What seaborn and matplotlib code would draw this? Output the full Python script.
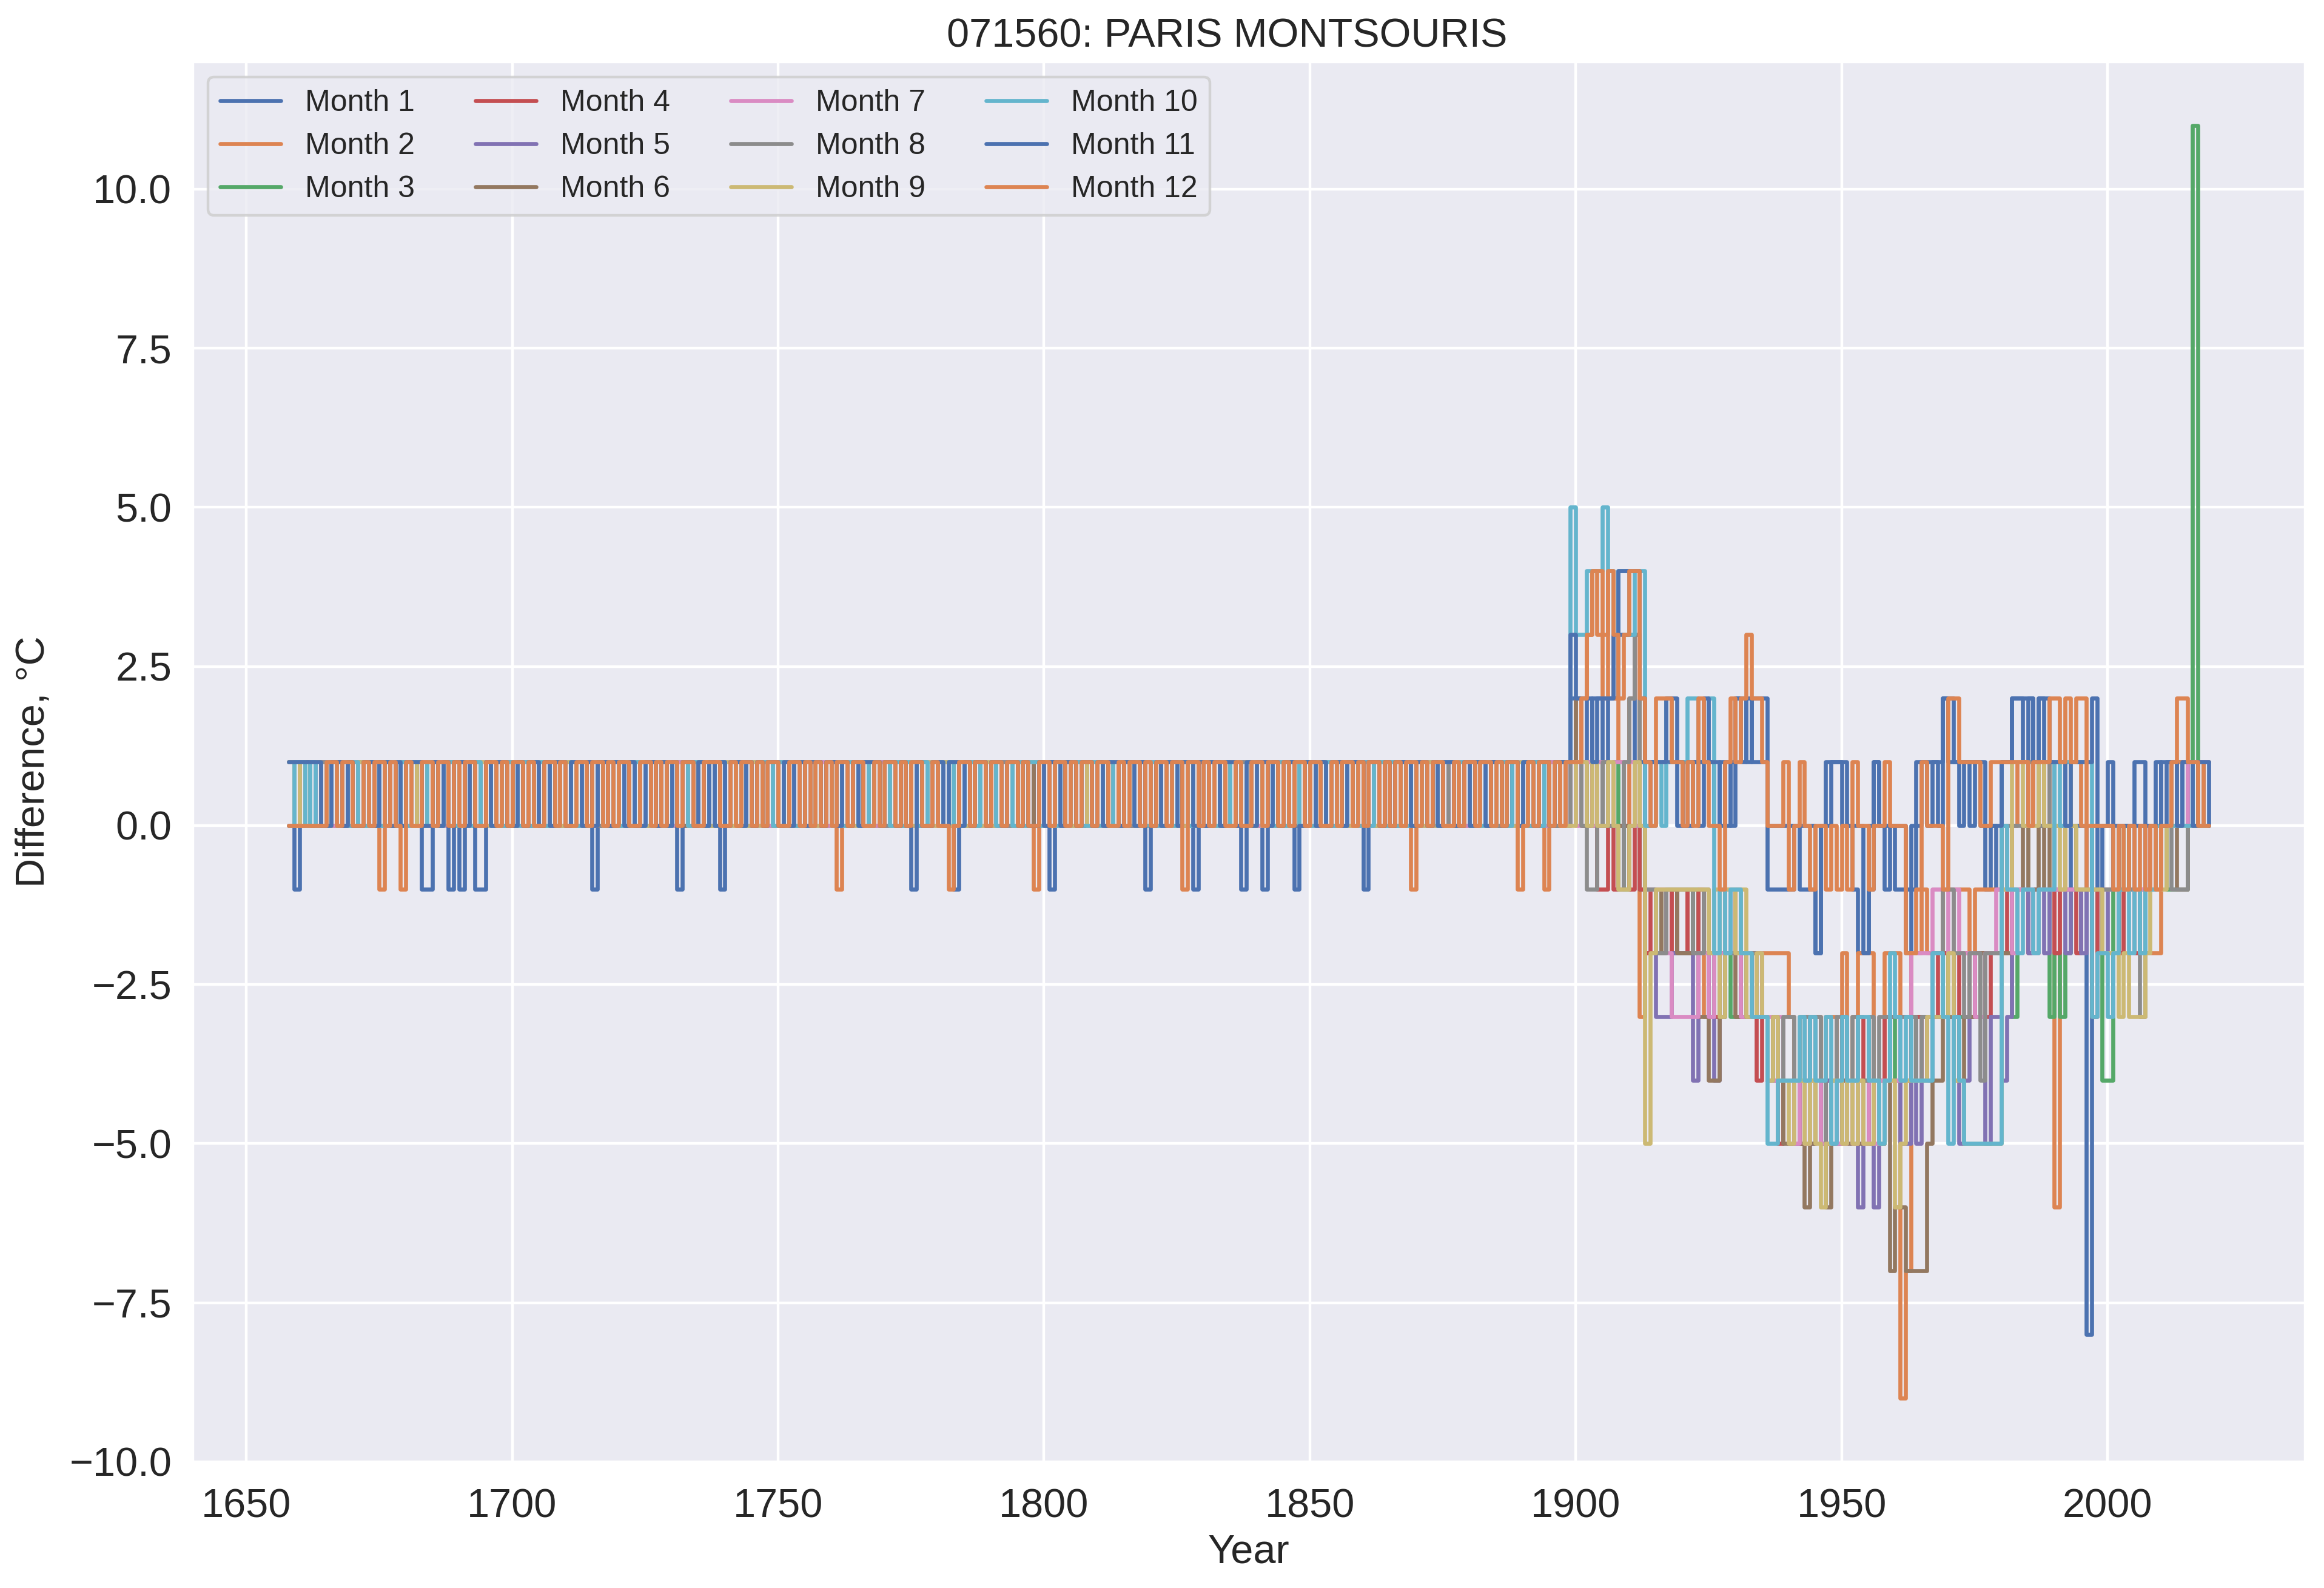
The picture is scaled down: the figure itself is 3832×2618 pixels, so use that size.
import matplotlib
matplotlib.use("Agg")
import matplotlib.pyplot as plt
import pandas as pd
import seaborn as sns

TITLE = "071560: PARIS MONTSOURIS"
X_LABEL = "Year"
Y_LABEL = "Difference, °C"
MONTHS = [f"Month {m}" for m in range(1, 13)]

FIRST_YEAR = 1658
SPLIT_YEAR = 1898
LAST_YEAR = 2019

# 1658-1897: values 0/1, ten years per group
EARLY = {
    1: "1100110101 1011001101 0110110010 1101011001 0110101101 1001101011 0101100110 1101001011 0110110100 1011010110 0101101101 1010010110 1101101001 0110101101 1011010010 1101101011 0100110101 1011011010 0101101101 1010110100 1101011011 0110100101 1011010110 1101101011",
    2: "0011100110 0101110011 1001011100 0110100111 1010011010 0111001101 1010110011 0100111010 1011001101 0110110011 1010011101 0101100110 0011011010 1100101101 0110011011 0101101100 1011010011 0110011101 1001101011 0101100110 0110011010 1011001101 0110110010 1001101011",
    3: "1010011011 0110101100 1101100101 0010110110 1101001011 0110110100 1001011011 0110100110 1101011001 0010110110 1011001011 0110101101 1001011010 0110110101 1010010110 0101101011 1101010010 0110101101 1011010100 1101001011 0101101010 1101011001 0101101101 0110100110",
    4: "0110101001 1010110110 0101001011 1011010100 0110101011 0101011010 1010101101 0110010110 1001101010 1101010101 0101011010 1010100101 0110101011 1001010110 0101101010 1010010101 0110101101 1001011010 0110100101 1011010110 0100101011 0110100101 1001011010 1010110101",
    5: "1001010110 0101101011 1010010100 0101101011 1001011010 1010100101 0101011010 1011010101 0100101011 0101101010 1010010101 1001101010 0101010110 1010101001 0110010101 1010101100 1001010110 0101101001 1010010110 0101011010 1010101001 0101010110 0110101001 0101011010",
    6: "0111001010 1001010101 0110101101 1010100110 0101010110 1010101001 0110100110 1001011010 0110101100 1010010101 0101101010 0110010110 1010101101 0101010100 1001011011 0101010010 1010101101 0110100101 1001010110 1010101001 0101010110 1010110010 0101001101 1010100101",
    7: "0100101101 0110010101 1001010110 0110101001 1010110100 0101001011 1011010100 0101101011 1010010101 0100101010 1010110100 0101010011 1001010100 0110101011 1001010101 0101011010 0110101001 1010010101 0101101010 0110010101 1010101010 0101010101 1001010110 0101010110",
    8: "1001001011 0101011010 0010101101 1001010110 0101101001 0110100101 0010110110 1010100101 0101010110 1010101001 0110101010 1001010101 0101011010 1010100100 0101101011 1010010101 0101010100 1010101011 0110010100 1001010101 0101010101 1010101010 0101011001 1010101001",
    9: "1010110010 1001010110 1010101001 0101011010 1001010101 1010100110 0101011001 1010101010 0110100101 1001011010 0101010101 1010101010 1001011010 0101010101 1010101001 0101010110 1001010101 0101010110 1010101001 0101011010 0101010110 1010101001 0101010110 0101011010",
    10: "0110100110 1010011011 0101101001 1010010101 0110101101 0101010110 1101010101 0010101101 0101101011 1010100101 0101011010 1010101101 0110100110 1010010101 1001010110 0101101011 1010010110 0101011010 0110101011 0101010101 1010110101 0101010110 1101010110 1010101011",
    11: "1111110011 0100110110 1011100101 0110110101 1001011010 1101101011 0110100110 1010110101 0101101010 1101011011 0110101011 1011010110 0110110101 1011011010 0101101101 1010110110 1101011011 0101101101 1011010110 0110101101 1101101011 1011010110 0101101101 1011011011",
    12: "0000000110 1100101101 0110011011 0101100110 1011010011 0100110110 1011001101 0110110011 1001011010 1100110101 0101101100 1011010110 0100101101 1011011010 0110110101 1011001011 0101101101 1010110010 0110110101 1011001011 0101101010 1101011001 0110110101 1001011010",
}

# years with a value of -1 before 1898
DIPS = {
    1: [1659, 1683, 1684, 1690, 1715, 1739, 1783, 1801, 1828, 1841, 1860],
    2: [1675, 1761, 1798, 1869, 1894],
    11: [1688, 1693, 1694, 1731, 1775, 1819, 1837, 1847],
    12: [1679, 1782, 1826, 1889],
}

# 1898-2019
LATE = {
    1: [1, 2,
        2, 2, 1, 2, 2, 1, 2, 2, 3, 3,
        3, 1, 1, 0, 1, 1, 1, 1, 1, 0,
        1, 0, 1, 0, 1, 1, 0, 1, 0, 1,
        2, 1, 2, 1, 1, 1, -1, -1, -1, -1,
        -1, 0, -1, -1, -1, -2, 0, 0, 1, 1,
        0, 0, -1, -2, -2, -1, 1, 0, -1, 0,
        -1, -1, -2, -1, 0, 1, 0, 1, 0, 2,
        1, 1, 0, 1, 0, 1, 0, -1, 0, -1,
        1, 1, 2, 2, 1, 2, 1, 2, 1, 1,
        0, 0, 0, -1, 0, 0, -8, 0, -1, 0,
        0, -1, 0, 0, -1, 0, 0, -1, 0, 0,
        1, 1, 0, 1, 0, 1, 1, 0, 1, 1],
    2: [1, 1,
        2, 2, 3, 4, 3, 2, 4, 2, 1, 0,
        2, 3, -3, -2, -2, -2, -2, -1, -2, -2,
        -2, -1, -2, -2, -3, -3, -3, -2, -2, -1,
        -1, -2, -2, -2, -2, -2, -2, -2, -2, -2,
        -3, -4, -3, -4, -4, -3, -4, -3, -3, -5,
        -2, -4, -3, -2, -2, -2, -4, -5, -2, -2,
        -2, -9, -7, -2, -2, -1, -2, -2, -2, -1,
        -1, -1, -1, -1, -2, -1, -1, -1, -1, -1,
        0, -1, 0, 1, 1, 0, 1, 1, 0, 1,
        -6, -1, 1, 1, 1, 0, -1, -1, -1, -1,
        -1, -1, -1, -1, -1, -1, -2, -2, -2, -2,
        0, 0, 0, 1, 1, 1, 1, 1, 0, 0],
    3: [1, 1,
        1, 0, 1, 0, 1, 0, 0, 1, 0, -1,
        0, 0, -1, -1, -1, -1, -2, -1, -1, -2,
        -2, -2, -1, -2, -2, -3, -2, -2, -2, -3,
        -3, -3, -3, -3, -3, -3, -4, -4, -4, -4,
        -4, -4, -4, -4, -4, -4, -5, -4, -4, -4,
        -4, -4, -4, -4, -4, -4, -4, -4, -4, -3,
        -4, -4, -4, -4, -3, -3, -3, -3, -3, -2,
        -3, -3, -3, -3, -3, -3, -2, -2, -2, -2,
        -1, -1, -3, -1, -1, -1, -1, -1, -1, -3,
        -2, -3, -2, -1, -1, -1, -1, -1, -2, -4,
        -4, -1, -2, 0, -1, -1, -1, -1, -1, 0,
        0, -1, -1, -1, -1, 0, 11, 1, 1, 1],
    4: [0, 1,
        1, 0, 0, 1, -1, -1, 0, -1, 0, 0,
        -1, 0, -1, -2, -1, -1, -1, -1, -2, -1,
        -1, -2, -2, -1, -2, -3, -3, -2, -2, -1,
        -2, -3, -3, -2, -4, -3, -4, -4, -5, -4,
        -4, -4, -5, -4, -3, -4, -4, -5, -4, -4,
        -3, -4, -4, -3, -4, -4, -4, -5, -3, -3,
        -3, -4, -4, -3, -3, -4, -3, -3, -2, -2,
        -2, -3, -2, -2, -3, -2, -2, -3, -2, -2,
        -2, -1, -1, -1, -1, -2, -2, -1, -1, -1,
        -2, -1, -1, -1, -2, -1, -1, -3, -1, -1,
        -1, -1, -2, -1, -1, -2, -1, -1, 0, 0,
        0, 0, 0, 0, 0, 0, 0, 0, 0, 0],
    5: [0, 1,
        1, 1, 0, 0, 0, 0, 0, 0, 0, 0,
        0, 0, 0, -1, -1, -3, -3, -3, -2, -2,
        -2, -2, -4, -2, -2, -3, -4, -3, -2, -2,
        -2, -2, -3, -3, -3, -3, -4, -4, -4, -4,
        -4, -5, -4, -5, -5, -4, -5, -4, -4, -5,
        -4, -4, -5, -6, -5, -4, -6, -5, -4, -4,
        -4, -5, -5, -4, -5, -4, -4, -3, -3, -3,
        -3, -4, -5, -4, -3, -3, -3, -5, -3, -3,
        -4, -3, -1, -1, -1, -2, -1, -1, -2, -1,
        -1, -1, -2, -1, -1, -2, -1, -1, -1, -2,
        -1, -1, -1, -1, -1, -1, -1, -1, -1, 0,
        0, 0, 0, 0, 0, 0, 0, 0, 0, 0],
    6: [1, 1,
        2, 1, 0, 0, 0, 1, 0, 0, 0, 0,
        0, 0, 0, -1, -1, -1, -2, -1, -1, -2,
        -2, -2, -2, -3, -3, -4, -4, -3, -2, -2,
        -3, -2, -3, -3, -2, -3, -4, -4, -4, -5,
        -5, -4, -5, -6, -5, -4, -5, -6, -5, -4,
        -4, -5, -4, -5, -4, -5, -4, -5, -4, -7,
        -6, -6, -7, -7, -7, -7, -5, -4, -4, -3,
        -3, -3, -4, -3, -3, -3, -2, -2, -2, -2,
        -2, -2, -1, -1, 0, -1, -1, 0, -1, 0,
        -1, -1, -1, -1, -1, -1, -1, -1, -1, -1,
        -1, -1, -1, -1, -1, -1, -1, -1, -1, 0,
        0, 0, 0, -1, -1, 0, 0, 0, 0, 0],
    7: [0, 1,
        0, 1, 1, 0, 1, 1, 0, 1, 1, 1,
        1, 0, 0, -1, -1, -1, -1, -2, -3, -3,
        -3, -3, -3, -2, -2, -3, -2, -2, -1, -2,
        -2, -3, -2, -3, -2, -3, -3, -4, -3, -4,
        -4, -5, -4, -5, -4, -4, -5, -5, -4, -5,
        -5, -4, -5, -4, -5, -4, -5, -4, -4, -4,
        -4, -3, -3, -2, -2, -2, -2, -1, -1, -1,
        -2, -1, -2, -2, -2, -3, -3, -2, -2, -1,
        -1, -1, -2, -1, -1, -1, -2, -1, -1, -1,
        -1, -1, -1, -1, -1, -1, -1, -1, -1, -1,
        -1, -1, -1, -1, -1, -1, -1, -1, 0, 0,
        0, 0, 0, 0, 0, 1, 1, 1, 1, 1],
    8: [0, 1,
        1, 0, -1, -1, 0, 1, 0, 0, -1, 1,
        2, 3, 0, -1, -1, -2, -2, -1, -1, -1,
        -1, -1, -2, -2, -1, -2, -2, -3, -2, -2,
        -2, -2, -3, -2, -3, -3, -4, -3, -4, -3,
        -3, -4, -4, -3, -4, -3, -4, -5, -4, -3,
        -3, -4, -3, -4, -4, -3, -4, -3, -3, -3,
        -3, -3, -3, -3, -4, -3, -3, -2, -2, -1,
        -1, -2, -2, -3, -2, -2, -4, -2, -2, -2,
        0, 0, 0, 0, 0, 1, 1, 0, 0, 1,
        0, 0, 0, 0, -1, -1, -1, -1, -1, -1,
        -1, -1, -1, -1, -1, -1, -3, -1, -1, 0,
        0, 0, -1, -1, -1, 0, 0, 0, 0, 0],
    9: [0, 0,
        1, 1, 0, 1, 0, 0, 1, 0, -1, -1,
        0, 1, 0, -5, -2, -1, -1, -1, -1, -1,
        -1, -1, -1, -1, -1, -2, -1, -3, -1, -1,
        -2, -1, -3, -3, -2, -3, -4, -3, -4, -4,
        -5, -4, -4, -5, -4, -5, -6, -5, -4, -4,
        -5, -4, -5, -4, -5, -5, -4, -5, -4, -4,
        -6, -5, -4, -4, -4, -4, -3, -3, -3, -3,
        -2, -4, -4, -5, -5, -5, -5, -5, -5, -5,
        -1, -1, 1, 1, 0, 0, 0, 1, 0, 0,
        0, -1, 1, 0, -1, -1, -1, -1, -1, -2,
        -2, -2, -3, -2, -3, -3, -3, -2, -1, -1,
        -1, 0, 0, 0, 0, 0, 0, 0, 0, 0],
    10: [1, 5,
         3, 3, 4, 4, 4, 5, 4, 3, 4, 4,
         3, 4, 4, 0, 0, 1, 0, 2, 1, 1,
         1, 2, 2, 1, 1, 2, -2, -1, -2, -1,
         -1, -2, -2, -3, -3, -3, -5, -5, -4, -4,
         -4, -4, -3, -4, -3, -4, -4, -3, -5, -4,
         -3, -4, -4, -3, -3, -4, -4, -5, -4, -2,
         -3, -4, -3, -4, -4, -4, -4, -2, -2, -3,
         -5, -3, -4, -5, -5, -5, -5, -5, -5, -5,
         0, -1, -1, -2, -1, -1, -2, -1, -1, -1,
         1, 0, 1, 1, 1, 1, 1, -3, -2, -2,
         -3, -2, -1, -1, -2, -1, -2, -1, -1, 0,
         0, 0, 0, 0, 0, 0, 1, 0, 0, 0],
    11: [1, 3,
         2, 2, 2, 1, 2, 2, 2, 3, 4, 4,
         4, 4, 2, 1, 1, 1, 1, 2, 2, 1,
         0, 1, 1, 1, 2, 1, 1, 0, 1, 0,
         2, 2, 1, 2, 2, 2, 0, 0, 0, 0,
         0, 0, 0, 0, 0, -2, 0, 1, 1, 1,
         1, 0, 0, 0, -2, 0, 1, 0, 0, 0,
         0, 0, -1, 0, 1, 1, 1, 1, 1, 2,
         2, 1, 1, 1, 1, 1, 1, 0, 0, 0,
         1, 1, 2, 2, 2, 2, 1, 2, 2, 1,
         1, 1, 0, 1, 1, 1, 1, 2, 0, 0,
         1, 0, 0, 0, 0, 1, 1, 0, 0, 1,
         0, 1, 1, 0, 1, 1, 0, 1, 1, 0],
    12: [1, 1,
         1, 2, 3, 4, 4, 3, 4, 3, 2, 3,
         4, 4, 2, 1, 0, 2, 2, 2, 1, 1,
         0, 1, 0, 2, 1, 0, 0, -1, 1, 2,
         1, 2, 3, 2, 2, 1, 0, 0, 0, 1,
         -1, 0, 1, 0, -1, 0, 0, -1, 0, -1,
         0, -1, 1, 0, 0, -1, 0, 0, 1, 0,
         0, 0, -2, -2, -1, 1, 0, 0, 0, -1,
         2, 2, 1, 1, 1, 1, 0, 0, 1, 1,
         1, 1, 1, 1, 1, 0, 1, 1, 1, 2,
         2, 1, 2, 1, 2, 2, 0, 0, 0, 0,
         0, -1, 0, -1, 0, -1, 0, -1, 0, -1,
         0, 0, 1, 2, 2, 1, 1, 0, 0, 0],
}


def month_frame(m):
    vals = {}
    for g, group in enumerate(EARLY[m].split()):
        for i, ch in enumerate(group):
            year = FIRST_YEAR + 10 * g + i
            if year < SPLIT_YEAR:
                vals[year] = int(ch)
    for y in DIPS.get(m, []):
        vals[y] = -1
    for y, v in zip(range(SPLIT_YEAR, LAST_YEAR + 1), LATE[m]):
        vals[y] = v
    years = sorted(vals)
    return pd.DataFrame({"Year": years, "Difference": [vals[y] for y in years]})


sns.set_theme(style="darkgrid")
plt.rcParams["font.family"] = ["Liberation Sans", "DejaVu Sans"]
plt.rcParams["grid.linewidth"] = 1.6
plt.rcParams["patch.linewidth"] = 1.6

DPI = 200
fig = plt.figure(figsize=(3832 / DPI, 2618 / DPI), dpi=DPI)
ax = fig.add_axes([318 / 3832, 1 - 2410 / 2618, (3800 - 318) / 3832, (2410 - 102) / 2618])

palette = sns.color_palette("deep", 12)
for m in range(1, 13):
    df = month_frame(m)
    sns.lineplot(data=df, x="Year", y="Difference", ax=ax, color=palette[m - 1],
                 label=MONTHS[m - 1], drawstyle="steps-post", linewidth=2.4,
                 estimator=None)

ax.set_title(TITLE, fontsize=24, pad=9, x=0.4897)
ax.set_xlabel(X_LABEL, fontsize=24, labelpad=5)
ax.set_ylabel(Y_LABEL, fontsize=24, labelpad=10)
ax.tick_params(axis="x", labelsize=24, length=0, pad=15.5)
ax.tick_params(axis="y", labelsize=24, length=0, pad=12.5)
ax.legend(ncol=4, loc="upper left", fontsize=18)

fig.savefig("out.png", dpi=DPI)
